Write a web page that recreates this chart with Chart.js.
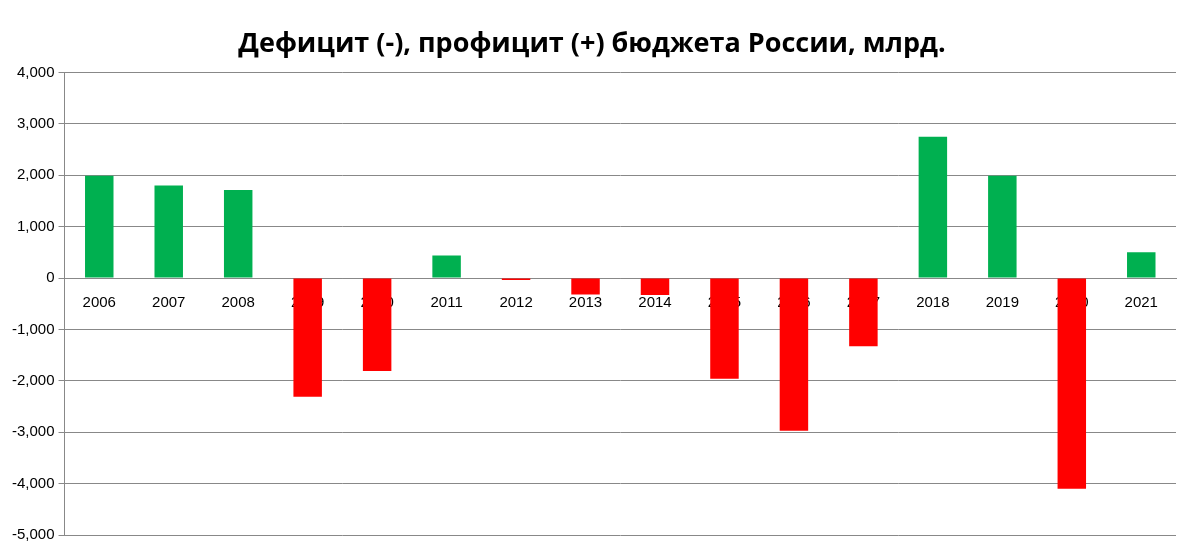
<!DOCTYPE html>
<html><head><meta charset="utf-8">
<script src="https://cdn.jsdelivr.net/npm/chart.js@4"></script>
<style>html,body{margin:0;background:#fff}#w{width:1200px;height:555px}</style>
</head><body><div id="w"><canvas id="c"></canvas></div>
<script>
const years = ['2006','2007','2008','2009','2010','2011','2012','2013','2014','2015','2016','2017','2018','2019','2020','2021'];
const balance = [1990,1800,1710,-2310,-1810,440,-40,-320,-330,-1960,-2970,-1330,2750,1990,-4100,500];
const yTicks = [-5000,-4000,-3000,-2000,-1000,0,1000,2000,3000,4000];
new Chart(document.getElementById('c'), {
  type: 'bar',
  data: { labels: years, datasets: [{ data: balance,
    backgroundColor: balance.map(v => v >= 0 ? '#00b050' : '#ff0000'),
    barPercentage: 0.41, categoryPercentage: 1 }] },
  options: {
    responsive: true, maintainAspectRatio: false, animation: false,
    layout: { padding: { left: 8, right: 24, top: 0, bottom: 20 } },
    plugins: { legend: { display: false }, tooltip: { enabled: false },
      title: { display: true, text: 'Дефицит (-), профицит (+) бюджета России, млрд.',
        font: { family: 'Open Sans', size: 27, weight: 'bold' }, color: '#000',
        padding: { top: 28, bottom: 12 } } },
    scales: {
      x: { position: { y: 0 }, grid: { display: false, drawTicks: false },
        border: { color: '#888' },
        ticks: { color: '#000', font: { family: 'Liberation Sans', size: 15 }, padding: 16, maxRotation: 0 } },
      y: { min: -5000, max: 4000, afterBuildTicks: s => { s.ticks = yTicks.map(v => ({ value: v })); },
        grid: { color: '#888', tickLength: 6 }, border: { color: '#888' },
        ticks: { color: '#000', font: { family: 'Liberation Sans', size: 15 }, padding: 4 } }
    }
  }
});
</script></body></html>
